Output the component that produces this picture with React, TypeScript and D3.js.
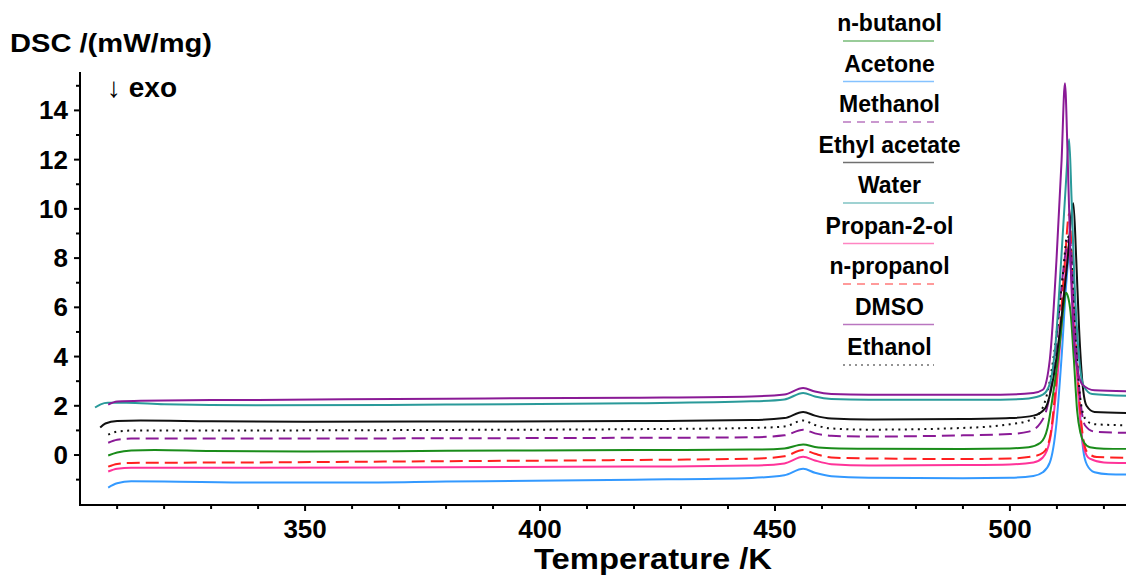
import React from "react";
import * as d3 from "d3";

type Pt = [number, number];

// Temperature (K) / heat flow (mW/mg) readings per solvent
const nButanol: Pt[] = [
  [308.1, -0.02], [310, 0.1], [313, 0.18], [318, 0.2], [330, 0.16], [350, 0.14], [380, 0.17],
  [420, 0.2], [445, 0.22], [452, 0.27], [456, 0.43], [458.5, 0.33], [462, 0.28], [470, 0.26],
  [490, 0.25], [500, 0.27], [504, 0.32], [506.5, 0.5], [508, 1.1], [509.2, 2.5], [510.6, 4.5],
  [511.4, 6.0], [511.9, 6.59], [512.4, 6.4], [512.9, 5.8], [513.6, 3.9], [514.3, 1.8], [515, 0.9],
  [515.8, 0.5], [517, 0.32], [520, 0.26], [524.7, 0.25],
];
const acetone: Pt[] = [
  [308.1, -1.32], [310, -1.15], [313, -1.07], [320, -1.08], [340, -1.12], [360, -1.12], [380, -1.08],
  [420, -1.0], [445, -0.93], [452, -0.82], [456, -0.56], [458.5, -0.72], [462, -0.86], [470, -0.92],
  [490, -0.94], [500, -0.92], [505, -0.85], [507, -0.7], [508.5, -0.3], [509.9, 1.3], [511, 4],
  [512, 7], [512.6, 8.1], [513.2, 7], [514, 4.5], [514.8, 2], [515.6, 0.2], [516.4, -0.4],
  [518, -0.7], [521, -0.78], [524.7, -0.79],
];
const methanol: Pt[] = [
  [308.1, 0.5], [310, 0.62], [313, 0.67], [340, 0.67], [380, 0.68], [420, 0.7], [445, 0.72],
  [452, 0.8], [456, 1.03], [458.5, 0.88], [462, 0.78], [470, 0.75], [490, 0.8], [500, 0.85],
  [504, 0.95], [506.5, 1.3], [508, 2], [509.5, 3.8], [510.8, 6.5], [512, 8.4], [512.7, 8.8],
  [513.3, 7.5], [514.1, 4.5], [515, 2.2], [516, 1.2], [518, 0.95], [524.7, 0.9],
];
const ethylAcetate: Pt[] = [
  [306.4, 1.12], [307.5, 1.28], [310, 1.38], [315, 1.4], [330, 1.37], [350, 1.35], [380, 1.36],
  [420, 1.38], [445, 1.42], [452, 1.5], [456, 1.75], [458.5, 1.6], [462, 1.48], [470, 1.44],
  [490, 1.46], [500, 1.5], [505, 1.6], [507.5, 1.9], [509.3, 3.2], [510.8, 5.3], [512.2, 7.8],
  [513.5, 10.23], [514.1, 8], [514.7, 5.2], [515.4, 3], [516.3, 2.0], [518, 1.75], [524.7, 1.71],
];
const water: Pt[] = [
  [305.3, 1.93], [306.5, 2.06], [308, 2.12], [312, 2.12], [320, 2.06], [340, 2.02], [380, 2.05],
  [420, 2.1], [445, 2.18], [452, 2.26], [456, 2.52], [458.5, 2.38], [462, 2.28], [470, 2.25],
  [498, 2.25], [504, 2.3], [507, 2.45], [508.5, 2.9], [509.7, 4.5], [510.9, 7.9], [511.9, 11],
  [512.6, 12.83], [513.1, 10.5], [513.7, 7.2], [514.6, 4.2], [515.7, 2.8], [517.5, 2.48], [524.7, 2.41],
];
const propan2ol: Pt[] = [
  [308.1, -0.67], [310, -0.56], [313, -0.52], [340, -0.52], [380, -0.5], [420, -0.47], [445, -0.43],
  [452, -0.34], [456, -0.07], [458.5, -0.22], [462, -0.37], [470, -0.43], [490, -0.41], [500, -0.38],
  [505, -0.3], [507, -0.1], [508.5, 0.6], [509.8, 2.5], [511, 5.3], [512, 7.8], [512.5, 8.5],
  [513.1, 7.2], [513.9, 4.5], [514.8, 1.8], [515.7, 0.3], [517, -0.15], [520, -0.3], [524.7, -0.32],
];
const nPropanol: Pt[] = [
  [308.1, -0.47], [310, -0.36], [313, -0.32], [340, -0.3], [380, -0.25], [420, -0.2], [445, -0.15],
  [452, -0.05], [456, 0.2], [458.5, 0.05], [462, -0.1], [470, -0.14], [490, -0.16], [500, -0.14],
  [505, -0.05], [507.1, 0.1], [508.5, 0.7], [509.6, 2.5], [510.6, 5], [511.7, 7.9], [512.6, 9.8],
  [513.1, 8.5], [513.6, 6.6], [514.7, 2.5], [515.5, 0.8], [516.5, 0.1], [518.5, -0.08], [524.7, -0.11],
];
const dmso: Pt[] = [
  [308.1, 2.05], [310, 2.17], [315, 2.21], [340, 2.24], [380, 2.29], [420, 2.33], [445, 2.38],
  [452, 2.46], [456, 2.72], [458.5, 2.58], [462, 2.48], [470, 2.45], [498, 2.45], [505, 2.52],
  [507, 2.65], [508.5, 3.9], [509.9, 7.9], [511, 12], [511.7, 15.1], [512.3, 12], [512.9, 7.9],
  [514, 3.9], [515.5, 2.85], [518, 2.63], [524.7, 2.59],
];
const ethanol: Pt[] = [
  [308.1, 0.83], [310, 0.95], [314, 1.0], [340, 1.0], [380, 1.02], [420, 1.05], [445, 1.1],
  [452, 1.16], [456, 1.4], [458.5, 1.22], [462, 1.08], [470, 1.03], [490, 1.1], [500, 1.25],
  [504, 1.4], [506.3, 1.7], [507.8, 2.4], [509, 3.6], [510.2, 5.4], [511.3, 7.4], [512.2, 8.9],
  [512.8, 8.6], [513.5, 6.5], [514.3, 3.8], [515.2, 2], [516.3, 1.4], [518, 1.25], [524.7, 1.21],
];

const legendNames = [
  "n-butanol", "Acetone", "Methanol", "Ethyl acetate", "Water",
  "Propan-2-ol", "n-propanol", "DMSO", "Ethanol",
];

const xTickValues = [350, 400, 450, 500];
const yTickValues = [0, 2, 4, 6, 8, 10, 12, 14];

interface Series {
  name: string;
  data: Pt[];
  color: string;
  dash?: string;
}

const series: Series[] = [
  { name: "n-butanol", data: nButanol, color: "#1a8c1a" },
  { name: "Acetone", data: acetone, color: "#3399ff" },
  { name: "Methanol", data: methanol, color: "#8a1a96", dash: "13,6" },
  { name: "Ethyl acetate", data: ethylAcetate, color: "#111111" },
  { name: "Water", data: water, color: "#2a9a9a" },
  { name: "Propan-2-ol", data: propan2ol, color: "#ff3399" },
  { name: "n-propanol", data: nPropanol, color: "#ff2020", dash: "13,6" },
  { name: "DMSO", data: dmso, color: "#8a1a96" },
  { name: "Ethanol", data: ethanol, color: "#111111", dash: "2,4.5" },
];

const W = 1126;
const H = 577;
const FONT = "'Liberation Sans', Arial, sans-serif";

export default function App() {
  const x = d3.scaleLinear().domain([302.1, 524.7]).range([80, 1126]);
  const y = d3.scaleLinear().domain([-2.03, 15.56]).range([505, 72]);
  const line = d3
    .line<Pt>()
    .x((d) => x(d[0]))
    .y((d) => y(d[1]))
    .curve(d3.curveMonotoneX);

  const xMinor = d3.range(310, 525, 10).filter((v) => v % 50 !== 0);
  const yMinor = d3.range(-1, 16, 2);

  // draw order: lower traces first, DMSO on top
  const drawOrder = [
    "Acetone", "Propan-2-ol", "n-propanol", "n-butanol", "Methanol",
    "Ethanol", "Ethyl acetate", "Water", "DMSO",
  ];
  const byName = new Map(series.map((s) => [s.name, s]));

  const legendX0 = 843;
  const legendX1 = 934;
  const legendTop = 41;
  const legendStep = 40.5;

  return (
    <svg
      width={W}
      height={H}
      style={{ position: "absolute", left: 0, top: 0, background: "#fff" }}
      fontFamily={FONT}
    >
      <defs>
        <clipPath id="plot-clip">
          <rect x={81} y={60} width={W - 81} height={444} />
        </clipPath>
      </defs>

      {/* traces */}
      <g clipPath="url(#plot-clip)" fill="none">
        {drawOrder.map((n) => {
          const s = byName.get(n)!;
          return (
            <path
              key={n}
              d={line(s.data) ?? ""}
              stroke={s.color}
              strokeWidth={2}
              strokeDasharray={s.dash}
              strokeLinejoin="round"
            />
          );
        })}
      </g>

      {/* axes */}
      <g stroke="#000" strokeWidth={2} fill="none">
        <line x1={80} y1={72} x2={80} y2={506} />
        <line x1={79} y1={505} x2={W} y2={505} />
        {yTickValues.map((v) => (
          <line key={"yt" + v} x1={74} x2={80} y1={y(v)} y2={y(v)} />
        ))}
        {yMinor.map((v) => (
          <line key={"ym" + v} x1={76} x2={80} y1={y(v)} y2={y(v)} />
        ))}
        {xTickValues.map((v) => (
          <line key={"xt" + v} x1={x(v)} x2={x(v)} y1={505} y2={511} />
        ))}
        {xMinor.map((v) => (
          <line key={"xm" + v} x1={x(v)} x2={x(v)} y1={505} y2={509} />
        ))}
      </g>

      <g fontWeight="bold" fontSize={26} fill="#000">
        {yTickValues.map((v) => (
          <text key={"yl" + v} x={68} y={y(v) + 9} textAnchor="end">
            {v}
          </text>
        ))}
        {xTickValues.map((v) => (
          <text key={"xl" + v} x={x(v)} y={538} textAnchor="middle">
            {v}
          </text>
        ))}
      </g>

      <text x={10} y={52} fontSize={25} fontWeight="bold" textLength={202} lengthAdjust="spacingAndGlyphs">
        DSC /(mW/mg)
      </text>
      <text
        x={653}
        y={569}
        fontSize={30}
        fontWeight="bold"
        textAnchor="middle"
        textLength={238}
        lengthAdjust="spacingAndGlyphs"
      >
        Temperature /K
      </text>
      <text x={107} y={97} fontSize={28} fontWeight="bold">
        ↓ exo
      </text>

      {/* legend */}
      <g>
        {legendNames.map((n, i) => {
          const s = byName.get(n)!;
          const ly = legendTop + legendStep * i;
          return (
            <g key={"lg" + n}>
              <text
                x={(legendX0 + legendX1) / 2 + 1}
                y={ly - 10}
                fontSize={23}
                fontWeight="bold"
                textAnchor="middle"
              >
                {n}
              </text>
              <line
                x1={legendX0}
                x2={legendX1}
                y1={ly}
                y2={ly}
                stroke={s.color}
                strokeWidth={1.5}
                strokeOpacity={0.6}
                strokeDasharray={s.dash ? (s.name === "Ethanol" ? "2,4" : "8,6") : undefined}
              />
            </g>
          );
        })}
      </g>
    </svg>
  );
}
